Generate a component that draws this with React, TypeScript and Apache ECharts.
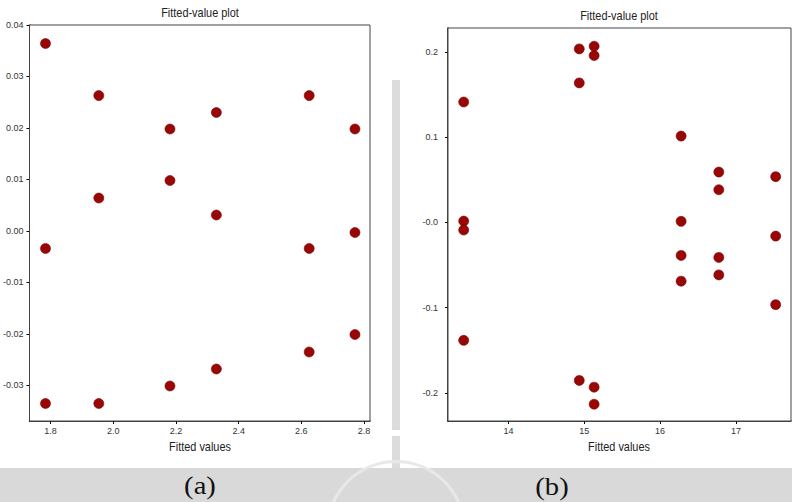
import React, { useEffect, useRef } from "react";
import * as echarts from "echarts";

// Panel (a)
const fittedA = [1.784, 1.784, 1.784, 1.954, 1.954, 1.954, 2.181, 2.181, 2.181, 2.329, 2.329, 2.329, 2.625, 2.625, 2.625, 2.771, 2.771, 2.771];
const residA = [0.0364, -0.0034, -0.0335, 0.0263, 0.0064, -0.0335, 0.0198, 0.0098, -0.0301, 0.023, 0.0031, -0.0268, 0.0263, -0.0034, -0.0235, 0.0198, -0.0003, -0.0201];
const xTicksA = [1.8, 2.0, 2.2, 2.4, 2.6, 2.8];
const yTicksA = [-0.03, -0.02, -0.01, 0, 0.01, 0.02, 0.03, 0.04];

// Panel (b)
const fittedB = [13.41, 13.41, 13.41, 13.41, 14.934, 14.934, 14.934, 15.13, 15.13, 15.13, 15.13, 16.277, 16.277, 16.277, 16.277, 16.774, 16.774, 16.774, 16.774, 17.524, 17.524, 17.524];
const residB = [0.1412, 0.0015, -0.009, -0.1384, 0.2035, 0.1636, -0.1854, 0.2066, 0.1957, -0.1933, -0.2133, 0.1012, 0.0012, -0.0388, -0.069, 0.059, 0.0383, -0.0411, -0.0616, 0.0536, -0.0161, -0.0965];
const xTicksB = [14, 15, 16, 17];
const yTicksB = [-0.2, -0.1, 0, 0.1, 0.2];

const titleText = "Fitted-value plot";
const xName = "Fitted values";
const panelLabels = ["(a)", "(b)"];

const SANS = "'Liberation Sans Narrow', 'Liberation Sans', Arial, sans-serif";
const SERIF = "'Liberation Serif', 'Times New Roman', serif";
const DOT = "#990606";

function axisBase(custom: number[], fmt: (v: number) => string, margin: number) {
  return {
    type: "value" as const,
    splitLine: { show: false },
    axisLine: { show: true, onZero: false, lineStyle: { color: "#000", width: 1.5 } },
    axisTick: { show: true, length: 3, customValues: custom, lineStyle: { color: "#000" } },
    axisLabel: {
      customValues: custom,
      formatter: fmt,
      fontFamily: SANS,
      fontSize: 9,
      color: "#333",
      margin,
      showMinLabel: true,
      showMaxLabel: true,
    },
  };
}

function label(text: string, x: number, y: number, size: number, family: string, sx: number, fill: string) {
  return {
    type: "text",
    x,
    y,
    scaleX: sx,
    style: { text, fontFamily: family, fontSize: size, fill, align: "center", verticalAlign: "middle" },
  };
}

export default function App() {
  const ref = useRef<HTMLDivElement>(null);
  useEffect(() => {
    document.body.style.margin = "0";
    const chart = echarts.init(ref.current!, undefined, { renderer: "svg" });
    chart.setOption({
      animation: false,
      backgroundColor: "#ffffff",
      grid: [
        { left: 29, top: 25, width: 341, height: 396, show: true, borderColor: "#444", borderWidth: 1, backgroundColor: "#fff", z: 1 },
        { left: 448, top: 28, width: 343, height: 393, show: true, borderColor: "#444", borderWidth: 1, backgroundColor: "#fff", z: 1 },
      ],
      xAxis: [
        { ...axisBase(xTicksA, (v: number) => v.toFixed(1), 5), gridIndex: 0, min: 1.733, max: 2.819 },
        { ...axisBase(xTicksB, (v: number) => String(Math.round(v)), 5), gridIndex: 1, min: 13.203, max: 17.726 },
      ],
      yAxis: [
        { ...axisBase(yTicksA, (v: number) => v.toFixed(2), 6), gridIndex: 0, min: -0.0369, max: 0.04 },
        {
          ...axisBase(yTicksB, (v: number) => (Math.abs(v) < 1e-9 ? "-0.0" : v.toFixed(1)), 10),
          gridIndex: 1,
          min: -0.233,
          max: 0.228,
        },
      ],
      series: [
        {
          type: "scatter",
          xAxisIndex: 0,
          yAxisIndex: 0,
          symbol: "circle",
          symbolSize: 10,
          itemStyle: { color: DOT, borderColor: "#7a0000", borderWidth: 0.6, opacity: 1 },
          data: fittedA.map((x, i) => [x, residA[i]]),
          z: 5,
        },
        {
          type: "scatter",
          xAxisIndex: 1,
          yAxisIndex: 1,
          symbol: "circle",
          symbolSize: 10,
          itemStyle: { color: DOT, borderColor: "#7a0000", borderWidth: 0.6, opacity: 1 },
          data: fittedB.map((x, i) => [x, residB[i]]),
          z: 5,
        },
      ],
      graphic: [
        { type: "rect", z: -10, shape: { x: 0, y: 468, width: 792, height: 34 }, style: { fill: "#d9d9d9" } },
        { type: "rect", z: -10, shape: { x: 392, y: 80, width: 8, height: 350 }, style: { fill: "#dcdcdc" } },
        { type: "rect", z: -10, shape: { x: 392, y: 436, width: 8, height: 32 }, style: { fill: "#dcdcdc" } },
        { type: "ring", z: -9, shape: { cx: 396, cy: 530, r: 70, r0: 67 }, style: { fill: "#e8e8e8" } },
        label(titleText, 200, 13, 13, SANS, 0.84, "#222"),
        label(titleText, 619, 16, 13, SANS, 0.84, "#222"),
        label(xName, 200, 447, 13, SANS, 0.84, "#222"),
        label(xName, 619, 447, 13, SANS, 0.84, "#222"),
        label(panelLabels[0], 200, 485, 26, SERIF, 1.1, "#111"),
        label(panelLabels[1], 552, 486, 26, SERIF, 1.1, "#111"),
      ],
    });
    return () => chart.dispose();
  }, []);
  return <div ref={ref} style={{ position: "fixed", left: 0, top: 0, width: 792, height: 502 }} />;
}
